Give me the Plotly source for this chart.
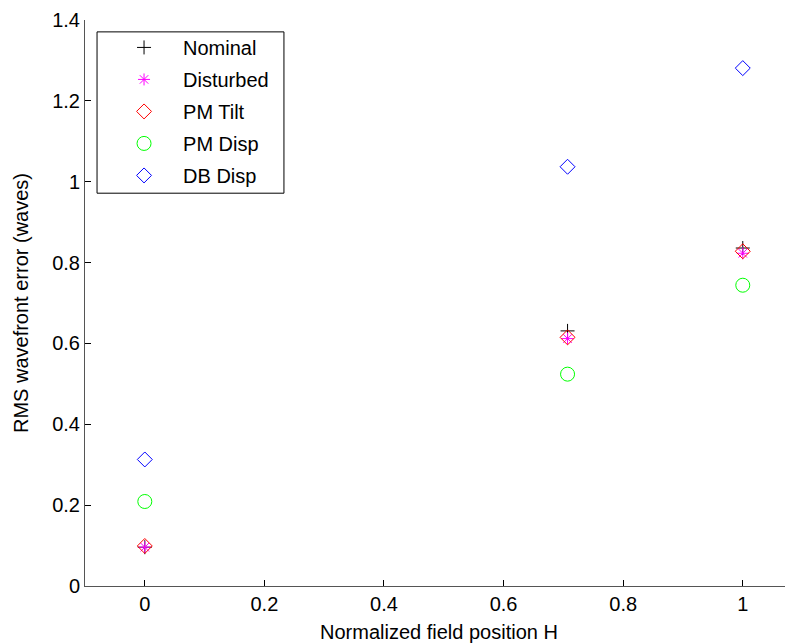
import plotly.graph_objects as go

x_pos = [0.0, 0.707, 1.0]
nominal = [0.096, 0.631, 0.836]
disturbed = [0.096, 0.612, 0.823]
pm_tilt = [0.099, 0.615, 0.828]
pm_disp = [0.209, 0.524, 0.744]
db_disp = [0.313, 1.037, 1.281]

x_ticks = [0, 0.2, 0.4, 0.6, 0.8, 1]
y_ticks = [0, 0.2, 0.4, 0.6, 0.8, 1, 1.2, 1.4]

series = [
    ("Nominal", nominal, "cross-thin-open", "#000000", 10),
    ("Disturbed", disturbed, "asterisk-open", "#FF00FF", 10),
    ("PM Tilt", pm_tilt, "diamond-open", "#FF0000", 11.5),
    ("PM Disp", pm_disp, "circle-open", "#00FF00", 14),
    ("DB Disp", db_disp, "diamond-open", "#0000FF", 11.5),
]

fig = go.Figure()
for i, (name, vals, sym, col, sz) in enumerate(series):
    fig.add_trace(go.Scatter(
        x=x_pos, y=vals, mode="markers", name=name,
        legendgroup=f"g{i}",
        marker=dict(symbol=sym, color=col, size=sz, line=dict(color=col, width=1)),
    ))

# legend frame (paper coordinates)
fig.add_shape(type="rect", xref="paper", yref="paper",
              x0=0.017, x1=0.281, y0=0.694, y1=0.979,
              line=dict(color="black", width=1), fillcolor="white", layer="above")

font = "Liberation Sans, Arial, Helvetica, sans-serif"
fig.update_layout(
    width=785, height=635,
    margin=dict(l=77, r=0, t=12, b=57, autoexpand=False),
    plot_bgcolor="white", paper_bgcolor="white",
    font=dict(family=font, size=20, color="black"),
    showlegend=True,
    legend=dict(
        x=0.017, y=0.986, xanchor="left", yanchor="top",
        borderwidth=0, bgcolor="rgba(0,0,0,0)",
        font=dict(family=font, size=20, color="black"),
        tracegroupgap=3, itemwidth=68, indentation=8,
    ),
    xaxis=dict(
        range=[-0.1, 1.084], tickvals=x_ticks,
        ticktext=[f"{v:g}" for v in x_ticks],
        ticks="inside", ticklen=6, tickcolor="#000000",
        showline=True, linecolor="#555555", linewidth=1,
        showgrid=False, zeroline=False, automargin=False,
        title=dict(text="Normalized field position H", font=dict(size=20), standoff=10),
        tickfont=dict(size=20),
    ),
    yaxis=dict(
        range=[0, 1.4], tickvals=y_ticks,
        ticktext=[f"{v:g}" for v in y_ticks],
        ticks="inside", ticklen=6, tickcolor="#000000",
        showline=True, linecolor="#555555", linewidth=1,
        showgrid=False, zeroline=False, automargin=False,
        title=dict(text="RMS wavefront error (waves)", font=dict(size=20), standoff=18),
        tickfont=dict(size=20),
    ),
)

fig.write_html("out.html")
